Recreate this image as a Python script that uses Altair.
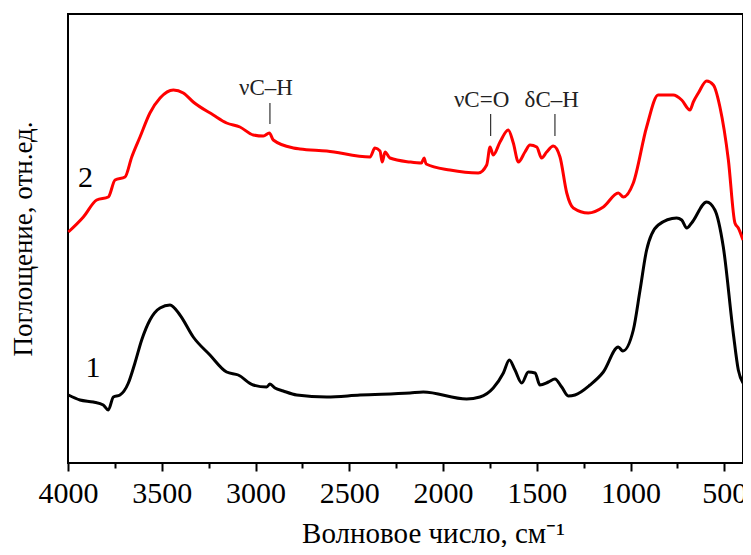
import altair as alt
import pandas as pd

# Spectrum 2 (red)
red_wn = [3998, 3918, 3847, 3785, 3749, 3696, 3660, 3616, 3563, 3509, 3438, 3385, 3332, 3225, 3154,
          3083, 3012, 2958, 2926, 2905, 2798, 2763, 2620, 2389, 2363, 2336, 2324, 2309, 2283, 2176,
          2115, 2101, 2090, 1963, 1812, 1767, 1749, 1732, 1696, 1652, 1625, 1598, 1563, 1536, 1500,
          1474, 1447, 1412, 1376, 1340, 1305, 1225, 1145, 1065, 1038, 985, 914, 852, 772, 727,
          683, 665, 638, 594, 558, 523, 478, 443, 425, 400]
red_y = [231, 246, 263, 266, 283, 286, 306, 326, 350, 365, 373, 370, 361, 348, 340,
         336, 328, 327, 330, 323, 315, 314, 312, 306, 315, 312, 301, 311, 305, 301,
         300, 305, 299, 293, 290, 298, 316, 308, 321, 333, 320, 301, 311, 318, 316,
         305, 311, 317, 306, 270, 255, 250, 256, 270, 266, 280, 336, 368, 368, 363,
         353, 361, 370, 382, 378, 356, 303, 240, 235, 223]

# Spectrum 1 (black)
black_wn = [3998, 3936, 3865, 3812, 3785, 3758, 3723, 3678, 3643, 3607, 3563, 3509, 3456, 3403, 3332,
            3243, 3154, 3092, 3012, 2940, 2923, 2896, 2852, 2780, 2620, 2443, 2176, 2105, 1874, 1803,
            1732, 1678, 1646, 1616, 1580, 1545, 1509, 1483, 1438, 1403, 1367, 1332, 1296, 1216, 1145,
            1065, 1041, 985, 949, 914, 852, 754, 727, 700, 674, 594, 550, 505, 452, 425, 400]
black_y = [68, 63, 61, 58, 53, 66, 68, 80, 100, 123, 143, 155, 158, 148, 126,
           108, 91, 88, 78, 76, 79, 75, 72, 68, 66, 68, 70, 71, 64, 66,
           75, 90, 103, 93, 80, 91, 90, 78, 81, 84, 76, 67, 68, 78, 91,
           116, 112, 133, 173, 213, 238, 245, 243, 235, 240, 261, 253, 216, 130, 93, 80]

# Band annotations
band_labels = ["νC–H", "νC=O", "δC–H"]
band_label_wn = [2944, 1794, 1420]
band_label_y = [375, 363, 363]
band_tick_wn = [2923, 1746, 1403]
band_tick_y1 = [339, 327, 327]
band_tick_y2 = [360, 349, 349]

# Curve numbers
curve_names = ["2", "1"]
curve_name_wn = [3907, 3867]
curve_name_y = [285, 95]

tick_values = [500, 750, 1000, 1250, 1500, 1750, 2000, 2250, 2500, 2750, 3000, 3250, 3500, 3750, 4000]

FONT = "Liberation Serif"

df = pd.concat([
    pd.DataFrame({"wn": black_wn, "a": black_y, "s": "1"}),
    pd.DataFrame({"wn": red_wn, "a": red_y, "s": "2"}),
])
df_band = pd.DataFrame({"wn": band_label_wn, "a": band_label_y, "t": band_labels})
df_tick = pd.DataFrame({"wn": band_tick_wn, "a1": band_tick_y1, "a2": band_tick_y2})
df_num = pd.DataFrame({"wn": curve_name_wn, "a": curve_name_y, "t": curve_names})

xscale = alt.Scale(domain=[4000, 400], nice=False, zero=False)
yscale = alt.Scale(domain=[0, 449], nice=False, zero=False)

xaxis = alt.Axis(
    values=tick_values,
    format="d",
    labelExpr="datum.value % 500 === 0 ? datum.label : ''",
    tickSize={"condition": {"test": "datum.value % 500 === 0", "value": 8}, "value": 5},
    tickWidth=2,
    tickColor="black",
    labelPadding=7,
    labelFlush=False,
    labelOverlap=False,
    labelFontSize=30,
    labelColor="black",
    grid=False,
    domain=False,
    title="Волновое число, см⁻¹",
    titleFontSize=29,
    titleX=365,
    titleY=70,
    titleAlign="center",
    titleBaseline="middle",
)
yaxis = alt.Axis(
    labels=False, ticks=False, domain=False, grid=False,
    title="Поглощение, отн.ед.",
    titleFontSize=27,
    titleX=-45, titleY=224.5,
    titleAngle=270,
    titleAlign="center", titleBaseline="middle",
)

lines = alt.Chart(df).mark_line(strokeWidth=3, interpolate="monotone").encode(
    x=alt.X("wn:Q", scale=xscale, axis=xaxis),
    y=alt.Y("a:Q", scale=yscale, axis=yaxis),
    color=alt.Color("s:N", scale=alt.Scale(domain=["1", "2"], range=["#000000", "#ff0000"]), legend=None),
    detail="s:N",
)

band_text = alt.Chart(df_band).mark_text(font=FONT, fontSize=23, color="#222222", baseline="middle", align="center").encode(
    x=alt.X("wn:Q", scale=xscale), y=alt.Y("a:Q", scale=yscale), text="t:N")

band_ticks = alt.Chart(df_tick).mark_rule(color="#333333", strokeWidth=1.2).encode(
    x=alt.X("wn:Q", scale=xscale), y=alt.Y("a1:Q", scale=yscale), y2="a2:Q")

num_text = alt.Chart(df_num).mark_text(font=FONT, fontSize=30, color="black", baseline="middle", align="center").encode(
    x=alt.X("wn:Q", scale=xscale), y=alt.Y("a:Q", scale=yscale), text="t:N")

chart = alt.layer(lines, band_ticks, band_text, num_text).properties(
    width=675, height=449,
    padding={"left": 60, "top": 6, "right": 0, "bottom": 84},
    autosize=alt.AutoSizeParams(type="none"),
).configure_view(
    stroke="black", strokeWidth=2
).configure_axis(
    labelFont=FONT, titleFont=FONT, titleFontWeight="normal", titleColor="black"
)

chart.save("out.html", embed_options={"renderer": "svg", "actions": False})
